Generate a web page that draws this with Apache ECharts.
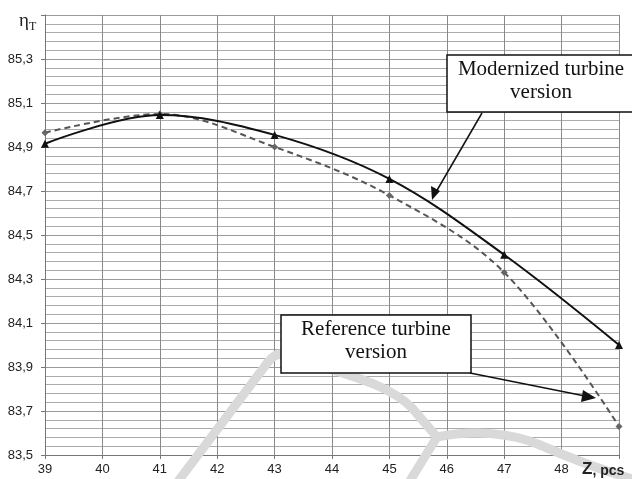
<!DOCTYPE html>
<html>
<head>
<meta charset="utf-8">
<script src="https://cdn.jsdelivr.net/npm/echarts@6/dist/echarts.min.js"></script>
<style>html,body{margin:0;padding:0;background:#fff}#c{width:632px;height:479px}</style>
</head>
<body>
<div id="c"></div>
<script>
// Data
const zValues = [39, 41, 43, 45, 47, 49];
const modernized = [84.915, 85.045, 84.955, 84.755, 84.41, 84.0];
const reference = [84.965, 85.05, 84.9, 84.68, 84.33, 83.63];
const xTicks = [39, 40, 41, 42, 43, 44, 45, 46, 47, 48];
const yTicks = [83.5, 83.7, 83.9, 84.1, 84.3, 84.5, 84.7, 84.9, 85.1, 85.3];
const seriesNames = ['Modernized turbine version', 'Reference turbine version'];

const chart = echarts.init(document.getElementById('c'));
const pairs = (xs, ys) => xs.map((x, i) => [x, ys[i]]);
const font = 'Liberation Sans, Arial, sans-serif';
const serif = 'Liberation Serif, Times New Roman, serif';

const wmStyle = { fill: null, stroke: '#d9d9d9', lineWidth: 9, lineCap: 'round' };
const wm = (type, shape) => ({ type: type, z: 1, silent: true, shape: shape, style: wmStyle });

chart.setOption({
  animation: false,
  backgroundColor: '#fff',
  grid: { left: 45, right: 13, top: 15, bottom: 24, containLabel: false },
  xAxis: {
    type: 'value', min: 39, max: 49, interval: 1,
    axisLine: { show: true, lineStyle: { color: '#777', width: 1 } },
    axisTick: { show: true, length: 4, lineStyle: { color: '#777' } },
    axisLabel: {
      margin: 8, color: '#222', fontSize: 13, fontFamily: font,
      formatter: v => xTicks.includes(Math.round(v)) && Math.abs(v - Math.round(v)) < 1e-6 ? String(Math.round(v)) : ''
    },
    splitLine: { show: true, lineStyle: { color: '#8a8a8a', width: 1 } }
  },
  yAxis: {
    type: 'value', min: 83.5, max: 85.5, interval: 0.2,
    axisLine: { show: true, lineStyle: { color: '#777', width: 1 } },
    axisTick: { show: true, length: 4, lineStyle: { color: '#777' } },
    axisLabel: {
      margin: 12, color: '#222', fontSize: 13, fontFamily: font,
      formatter: v => {
        const r = Math.round(v * 10) / 10;
        return yTicks.some(t => Math.abs(t - r) < 1e-6) ? r.toFixed(1).replace('.', ',') : '';
      }
    },
    splitLine: { show: true, lineStyle: { color: '#9a9a9a', width: 1 } },
    minorTick: { show: false, splitNumber: 5 },
    minorSplitLine: { show: true, lineStyle: { color: '#ababab', width: 1 } }
  },
  series: [
    {
      name: seriesNames[0], type: 'line', smooth: 0.35,
      data: pairs(zValues, modernized),
      symbol: 'triangle', symbolSize: 8,
      lineStyle: { color: '#111', width: 2 },
      itemStyle: { color: '#111' },
      z: 5
    },
    {
      name: seriesNames[1], type: 'line', smooth: 0.35,
      data: pairs(zValues, reference),
      symbol: 'diamond', symbolSize: 7,
      lineStyle: { color: '#555', width: 2, type: [6, 4] },
      itemStyle: { color: '#666' },
      z: 4
    }
  ],
  graphic: [
    // watermark strokes
    wm('line', { x1: 176, y1: 484, x2: 268, y2: 362 }),
    wm('bezierCurve', { x1: 268, y1: 362, cpx1: 278, cpy1: 349, x2: 292, y2: 356 }),
    wm('bezierCurve', { x1: 292, y1: 356, cpx1: 330, cpy1: 372, cpx2: 385, cpy2: 380, x2: 412, y2: 408 }),
    wm('line', { x1: 412, y1: 408, x2: 437, y2: 437 }),
    wm('line', { x1: 437, y1: 437, x2: 408, y2: 484 }),
    wm('bezierCurve', { x1: 437, y1: 437, cpx1: 470, cpy1: 430, cpx2: 510, cpy2: 432, x2: 540, y2: 445 }),
    wm('bezierCurve', { x1: 540, y1: 445, cpx1: 570, cpy1: 458, cpx2: 600, cpy2: 470, x2: 636, y2: 480 }),
    // y-axis name
    { type: 'text', left: 19, top: 12, z: 50,
      style: { text: '{a|η}{b|T}', rich: { a: { fontSize: 19, fontFamily: serif, fill: '#222' }, b: { fontSize: 12, fontFamily: serif, fill: '#222', padding: [10, 0, 0, 0] } } } },
    // x-axis name
    { type: 'text', left: 582, top: 461, z: 50,
      style: { text: '{a|Z}{b|, pcs}', rich: { a: { fontSize: 17, fontWeight: 'bold', fontFamily: font, fill: '#222' }, b: { fontSize: 14, fontWeight: 'bold', fontFamily: font, fill: '#222', padding: [3, 0, 0, 0] } } } },
    // annotation 1
    { type: 'rect', z: 60, shape: { x: 447, y: 55, width: 190, height: 57 }, style: { fill: '#fff', stroke: '#111', lineWidth: 1.5 } },
    { type: 'text', z: 61, x: 541, y: 58, style: { text: 'Modernized turbine\nversion', textAlign: 'center', fontSize: 21, lineHeight: 23, fontFamily: serif, fill: '#111' } },
    { type: 'line', z: 60, shape: { x1: 482, y1: 113, x2: 436, y2: 192 }, style: { stroke: '#111', lineWidth: 1.5 } },
    { type: 'polygon', z: 60, shape: { points: [[432, 200], [431, 186], [440, 191]] }, style: { fill: '#111' } },
    // annotation 2
    { type: 'rect', z: 60, shape: { x: 281, y: 315, width: 190, height: 58 }, style: { fill: '#fff', stroke: '#111', lineWidth: 1.5 } },
    { type: 'text', z: 61, x: 376, y: 318, style: { text: 'Reference turbine\nversion', textAlign: 'center', fontSize: 21, lineHeight: 23, fontFamily: serif, fill: '#111' } },
    { type: 'line', z: 60, shape: { x1: 470, y1: 373, x2: 585, y2: 396 }, style: { stroke: '#111', lineWidth: 1.5 } },
    { type: 'polygon', z: 60, shape: { points: [[596, 398], [583, 390], [581, 402]] }, style: { fill: '#111' } }
  ]
});
</script>
</body>
</html>
